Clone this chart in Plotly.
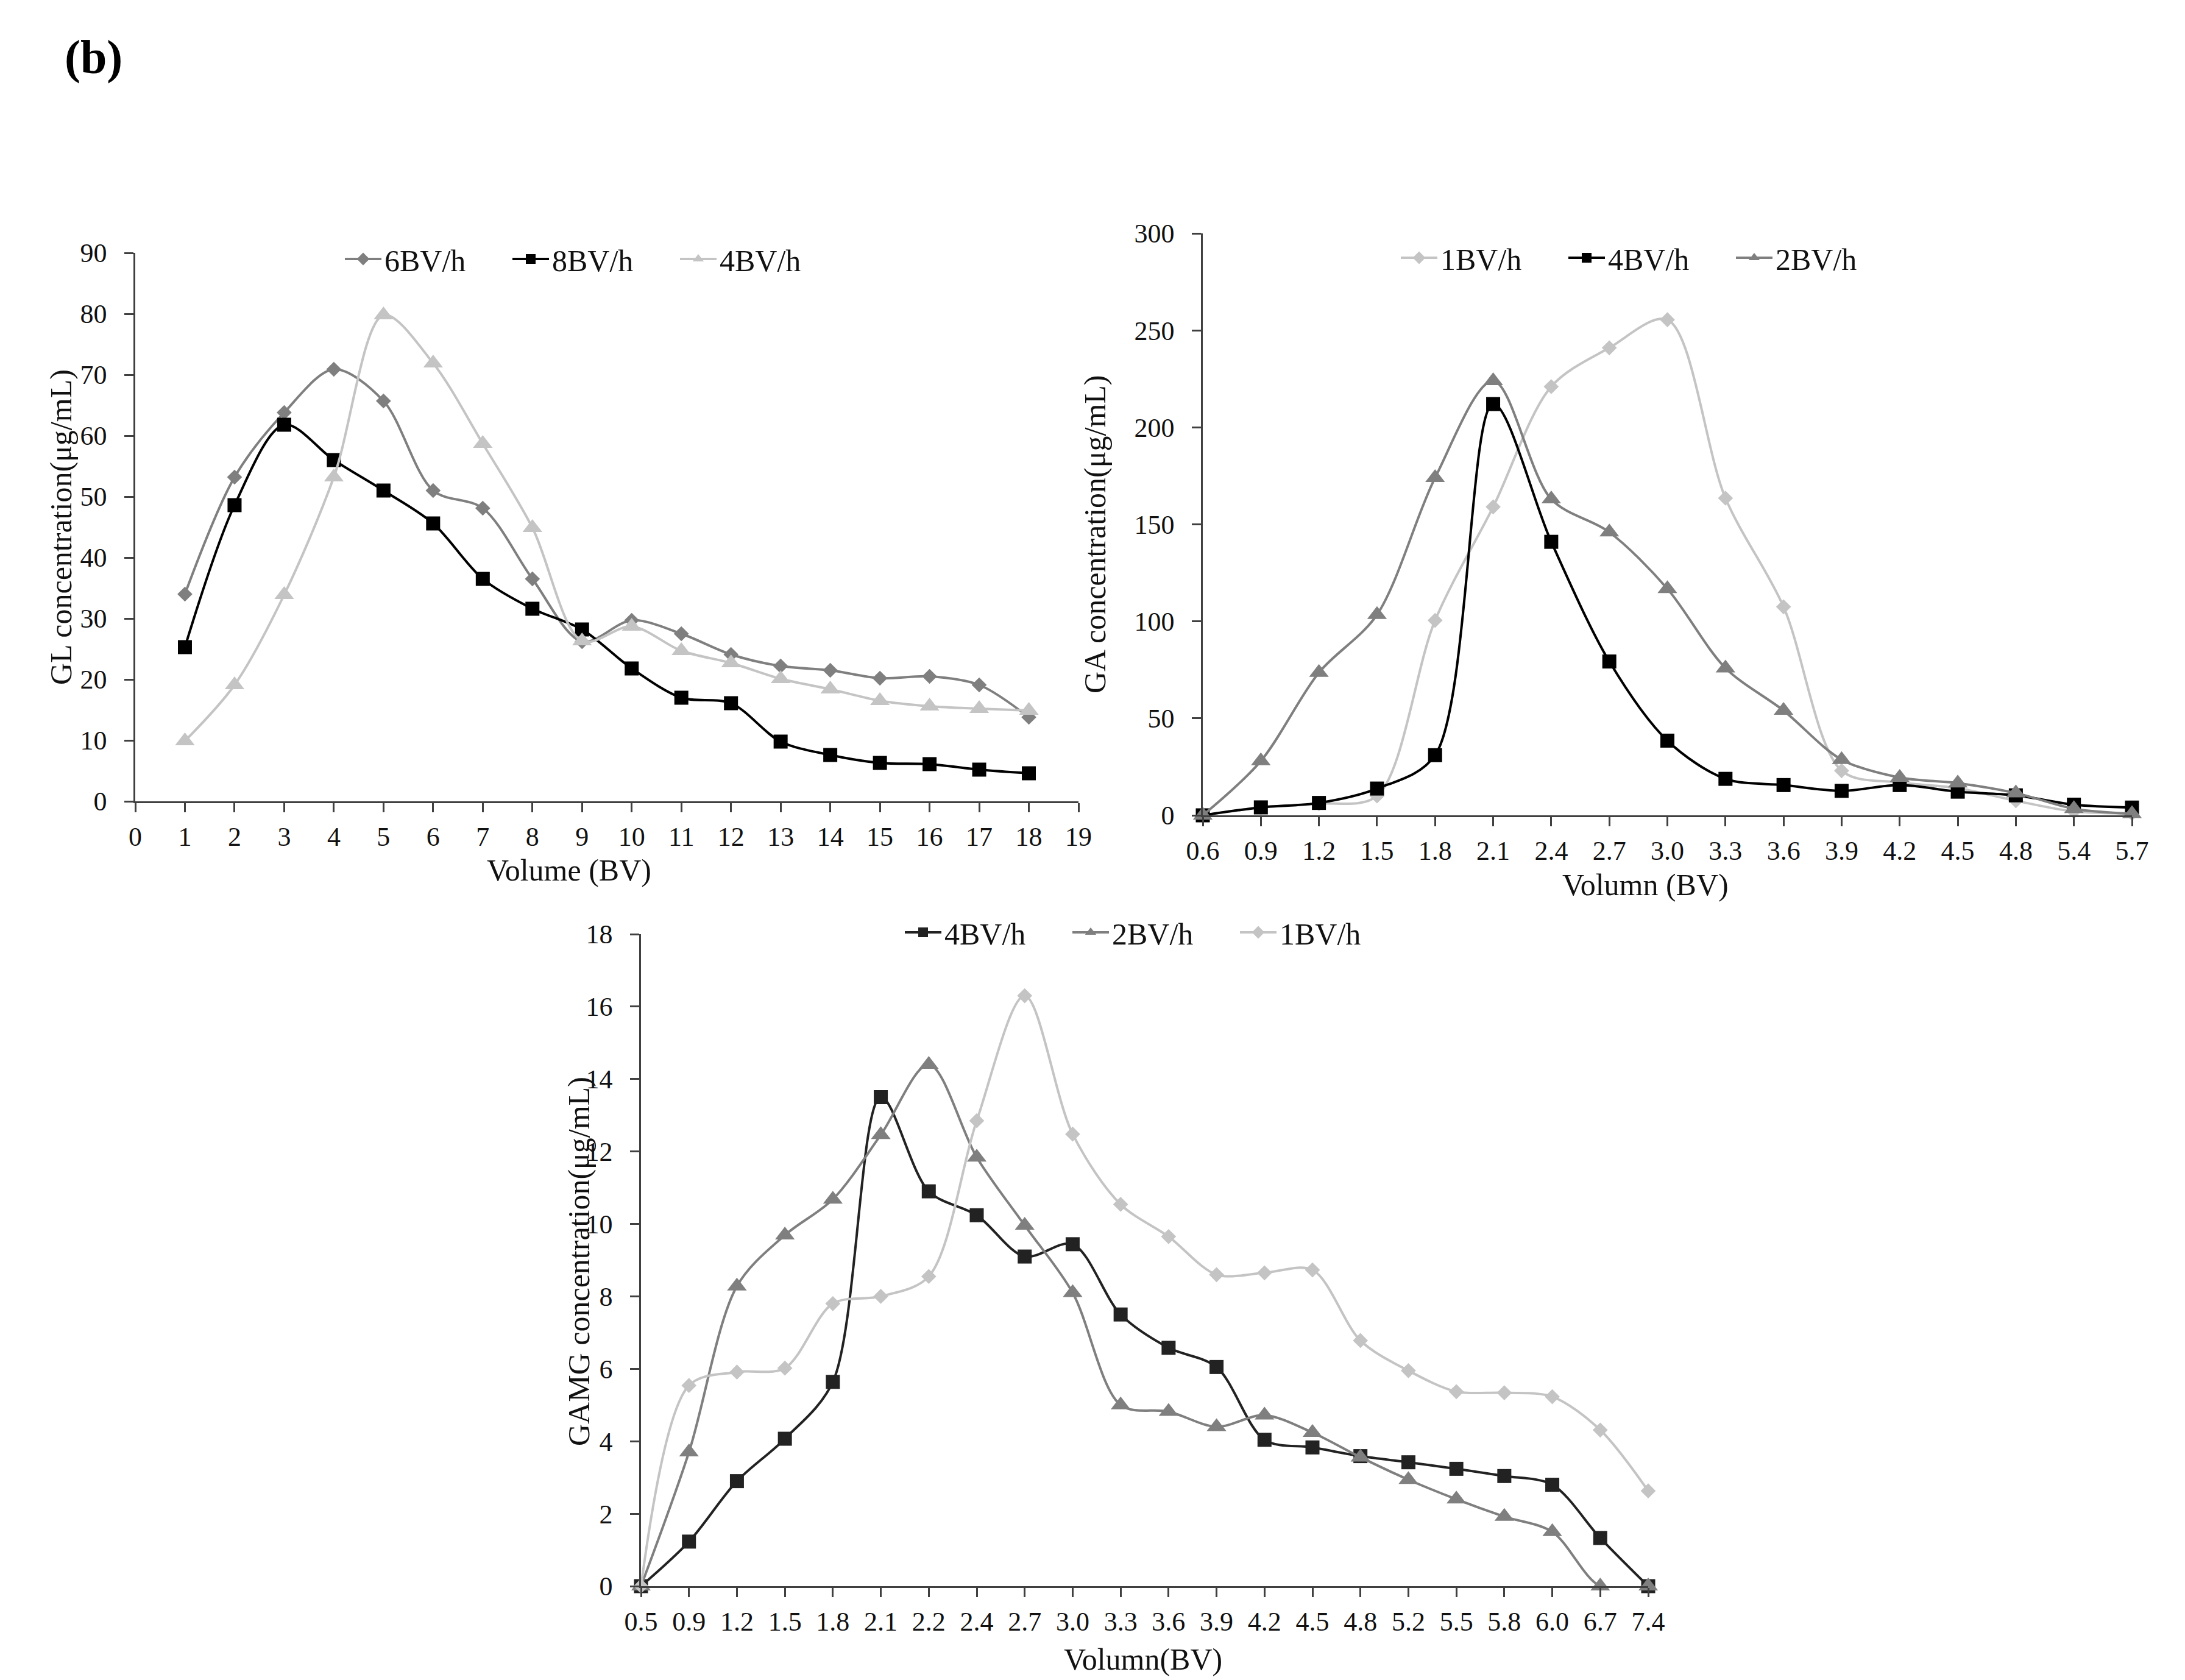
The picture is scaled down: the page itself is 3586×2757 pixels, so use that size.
import plotly.graph_objects as go

# ---- data -------------------------------------------------------------
# (GL) flow-rate comparison, numeric volume axis
gl_volume = list(range(1, 19))
gl_6bvh = [34, 53.2, 63.8, 70.9, 65.7, 51, 48.1, 36.5, 26.2, 29.7, 27.5, 24.1,
           22.2, 21.5, 20.2, 20.5, 19.1, 13.8]
gl_8bvh = [25.3, 48.6, 61.8, 56, 51, 45.6, 36.5, 31.6, 28.2, 21.8, 17, 16.1,
           9.8, 7.6, 6.3, 6.1, 5.2, 4.6]
gl_4bvh = [9.9, 19.1, 33.9, 53.2, 79.8, 71.9, 58.7, 44.9, 26.3, 28.7, 24.7, 22.7,
           20.1, 18.4, 16.5, 15.6, 15.2, 14.9]

# (GA) category axis
ga_volume = ["0.6", "0.9", "1.2", "1.5", "1.8", "2.1", "2.4", "2.7", "3.0", "3.3",
             "3.6", "3.9", "4.2", "4.5", "4.8", "5.4", "5.7"]
ga_1bvh = [0, 4, 6, 10, 100.5, 159, 221, 241, 255.5, 163.5, 107.5, 23, 17, 14,
           7.5, 2, 1]
ga_4bvh = [0, 4.1, 6.4, 13.8, 31, 212, 141, 79.3, 38.5, 18.8, 15.6, 12.6, 15.6,
           12.2, 10.3, 5.5, 4]
ga_2bvh = [0, 28, 73.6, 103.4, 174, 224, 163, 146, 116.8, 75.9, 54, 28.7, 19.5,
           16.6, 11.5, 3.4, 0.8]

# (GAMG) category axis
gamg_volume = ["0.5", "0.9", "1.2", "1.5", "1.8", "2.1", "2.2", "2.4", "2.7", "3.0",
               "3.3", "3.6", "3.9", "4.2", "4.5", "4.8", "5.2", "5.5", "5.8", "6.0",
               "6.7", "7.4"]
gamg_4bvh = [0, 1.23, 2.9, 4.07, 5.64, 13.5, 10.9, 10.24, 9.1, 9.44, 7.5, 6.58,
             6.05, 4.04, 3.83, 3.59, 3.42, 3.24, 3.04, 2.8, 1.33, 0]
gamg_2bvh = [0, 3.7, 8.28, 9.69, 10.68, 12.46, 14.4, 11.84, 9.96, 8.1, 5.0, 4.82,
             4.4, 4.72, 4.24, 3.56, 2.94, 2.4, 1.92, 1.5, 0, 0]
gamg_1bvh = [0, 5.54, 5.91, 6.02, 7.8, 8.0, 8.55, 12.85, 16.3, 12.48, 10.54, 9.65,
             8.6, 8.65, 8.73, 6.78, 5.95, 5.37, 5.34, 5.23, 4.31, 2.63]

# ---- style --------------------------------------------------------------
W, H = 3586, 2757
FONT = "Liberation Serif"
BLACK = "#000000"
DARK = "#7f7f7f"
LIGHT = "#c4c4c4"
AXIS = "#404040"
TXT = "#111111"


def px_x(px):
    return px / W


def px_y(px):
    return 1 - px / H


MARK = {"diamond": 19, "square": 23, "triangle-up": 28}


def series(x, y, name, color, symbol, xa, ya, leg):
    return go.Scatter(
        x=x, y=y, name=name, mode="lines+markers",
        line=dict(color=color, width=4, shape="spline", smoothing=0.9),
        marker=dict(color=color, symbol=symbol, size=MARK[symbol], line=dict(width=0)),
        xaxis=xa, yaxis=ya, legend=leg, cliponaxis=False,
    )


fig = go.Figure()

fig.add_trace(series(gl_volume, gl_6bvh, "6BV/h", DARK, "diamond", "x", "y", "legend"))
fig.add_trace(series(gl_volume, gl_8bvh, "8BV/h", BLACK, "square", "x", "y", "legend"))
fig.add_trace(series(gl_volume, gl_4bvh, "4BV/h", LIGHT, "triangle-up", "x", "y", "legend"))

fig.add_trace(series(ga_volume, ga_1bvh, "1BV/h", LIGHT, "diamond", "x2", "y2", "legend2"))
fig.add_trace(series(ga_volume, ga_4bvh, "4BV/h", BLACK, "square", "x2", "y2", "legend2"))
fig.add_trace(series(ga_volume, ga_2bvh, "2BV/h", DARK, "triangle-up", "x2", "y2", "legend2"))

fig.add_trace(series(gamg_volume, gamg_4bvh, "4BV/h", "#222222", "square", "x3", "y3", "legend3"))
fig.add_trace(series(gamg_volume, gamg_2bvh, "2BV/h", DARK, "triangle-up", "x3", "y3", "legend3"))
fig.add_trace(series(gamg_volume, gamg_1bvh, "1BV/h", LIGHT, "diamond", "x3", "y3", "legend3"))

tick_font = dict(family=FONT, size=44, color=TXT)
common = dict(
    showline=True, linecolor=AXIS, linewidth=2.5, showgrid=False, zeroline=False,
    ticks="outside", ticklen=15, tickwidth=2.5, tickcolor=AXIS, tickfont=tick_font,
    automargin=False,
)
xcommon = dict(ticklabelstandoff=2, **common)
ycommon = dict(ticklabelstandoff=20, **common)

fig.update_layout(
    width=W, height=H, autosize=False,
    margin=dict(l=0, r=0, t=0, b=0, pad=0, autoexpand=False),
    paper_bgcolor="white", plot_bgcolor="white",
    font=dict(family=FONT, size=44, color=TXT),
    xaxis=dict(domain=[px_x(222), px_x(1770)], anchor="y", range=[0, 19],
               dtick=1, tick0=0, **xcommon),
    yaxis=dict(domain=[px_y(1315), px_y(415)], anchor="x", range=[0, 90],
               dtick=10, **ycommon),
    xaxis2=dict(domain=[px_x(1974), px_x(3499)], anchor="y2", type="category",
                range=[0, len(ga_volume) - 1], tickvals=ga_volume, **xcommon),
    yaxis2=dict(domain=[px_y(1338), px_y(383)], anchor="x2", range=[0, 300],
                dtick=50, **ycommon),
    xaxis3=dict(domain=[px_x(1052), px_x(2705)], anchor="y3", type="category",
                range=[0, len(gamg_volume) - 1], tickvals=gamg_volume, **xcommon),
    yaxis3=dict(domain=[px_y(2603), px_y(1533)], anchor="x3", range=[0, 18],
                dtick=2, **ycommon),
)

leg_common = dict(orientation="h", xanchor="left", yanchor="middle",
                  bgcolor="rgba(0,0,0,0)", font=dict(family=FONT, size=50, color=TXT),
                  itemwidth=60, entrywidth=200, tracegroupgap=0)
fig.update_layout(
    legend=dict(x=px_x(561), y=px_y(425), **leg_common),
    legend2=dict(x=px_x(2294), y=px_y(423), **leg_common),
    legend3=dict(x=px_x(1480), y=px_y(1530), **leg_common),
)

# axis titles and panel label
title_font = dict(family=FONT, size=50, color=TXT)
annotations = [
    dict(text="GL concentration(μg/mL)", x=px_x(100), y=px_y(865), textangle=-90),
    dict(text="Volume (BV)", x=px_x(934), y=px_y(1428)),
    dict(text="GA concentration(μg/mL)", x=px_x(1797), y=px_y(877), textangle=-90),
    dict(text="Volumn (BV)", x=px_x(2700), y=px_y(1452)),
    dict(text="GAMG concentration(μg/mL)", x=px_x(950), y=px_y(2070), textangle=-90),
    dict(text="Volumn(BV)", x=px_x(1876), y=px_y(2723)),
]
for a in annotations:
    fig.add_annotation(xref="paper", yref="paper", showarrow=False,
                       xanchor="center", yanchor="middle", font=title_font, **a)

fig.add_annotation(text="<b>(b)</b>", xref="paper", yref="paper", showarrow=False,
                   x=px_x(104), y=px_y(93), xanchor="left", yanchor="middle",
                   font=dict(family=FONT, size=78, color="#000000"))

fig.write_html(
    "out.html",
    config={"displayModeBar": False},
    post_script="document.body.style.margin='0';document.body.style.overflow='hidden';",
)
